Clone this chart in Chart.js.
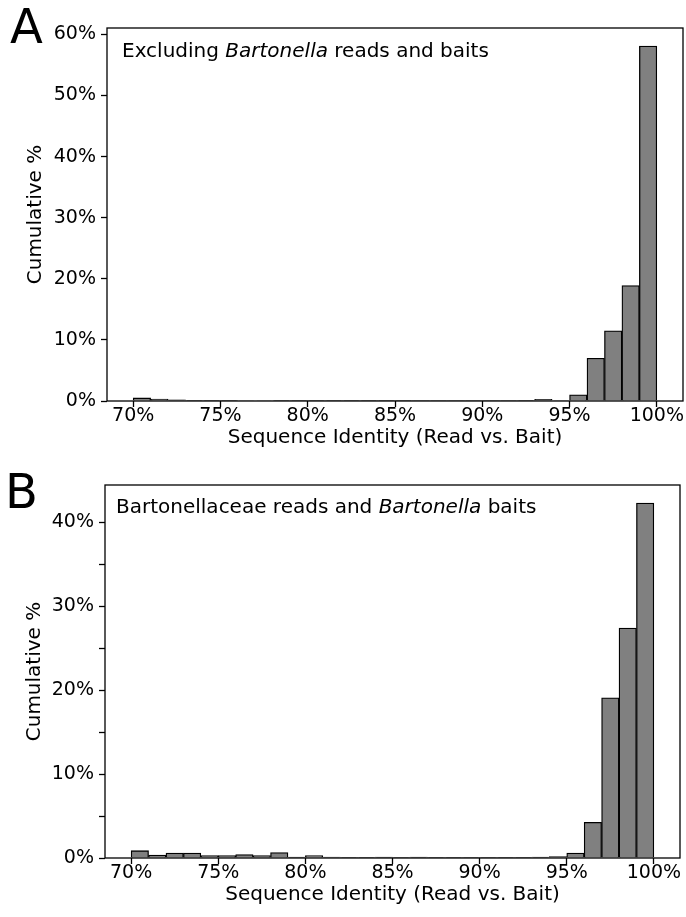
<!DOCTYPE html>
<html>
<head>
<meta charset="utf-8">
<script src="https://cdn.jsdelivr.net/npm/chart.js@4.4.1/dist/chart.umd.min.js"></script>
<style>
  html, body { margin: 0; padding: 0; background: #fff; }
  #wrap { position: relative; width: 686px; height: 917px; }
  canvas { position: absolute; left: 0; }
  #chartA { top: 0; }
  #chartB { top: 458px; }
</style>
</head>
<body>
<div id="wrap">
  <canvas id="chartA" width="686" height="458"></canvas>
  <canvas id="chartB" width="686" height="459"></canvas>
</div>
<script>
// left edges of the 1% bins, 70% .. 99%
const binStarts = [70, 71, 72, 73, 74, 75, 76, 77, 78, 79, 80, 81, 82, 83, 84,
  85, 86, 87, 88, 89, 90, 91, 92, 93, 94, 95, 96, 97, 98, 99];

// panel A: excluding Bartonella reads and baits (% of reads)
const valuesA = [0.5, 0.33, 0.2, 0.12, 0.1, 0.1, 0.08, 0.08, 0.06, 0.04, 0.05, 0.03, 0.02, 0.02, 0.02,
  0.02, 0.01, 0.01, 0.01, 0.01, 0.01, 0.01, 0.02, 0.28, 0.08, 1.0, 7.0, 11.5, 18.9, 58.1];

// panel B: Bartonellaceae reads and Bartonella baits (% of reads)
const valuesB = [0.87, 0.36, 0.6, 0.6, 0.28, 0.28, 0.4, 0.28, 0.64, 0.1, 0.3, 0.12, 0.04, 0.03, 0.1,
  0.05, 0.1, 0.03, 0.02, 0.05, 0.05, 0.08, 0.03, 0.1, 0.18, 0.58, 4.25, 19.1, 27.4, 42.3];

const xTicks = [70, 75, 80, 85, 90, 95, 100];
const yTicksA = [0, 10, 20, 30, 40, 50, 60];
const yTicksB = [0, 5, 10, 15, 20, 25, 30, 35, 40];

const FONT = 'DejaVu Sans';

// frame + panel letter + annotation with italic genus name
const panelDecor = {
  id: 'panelDecor',
  afterDraw(chart, args, opts) {
    const { ctx, chartArea: a } = chart;
    ctx.save();
    ctx.strokeStyle = '#000';
    ctx.lineWidth = 1.3;
    ctx.strokeRect(a.left, a.top, a.right - a.left, a.bottom - a.top);

    ctx.fillStyle = '#000';
    ctx.textBaseline = 'alphabetic';
    ctx.font = `48px "${FONT}"`;
    ctx.fillText(opts.letter, opts.letterX, opts.letterY);

    let x = a.left + opts.textDx;
    const y = a.top + opts.textDy;
    for (const [txt, italic] of opts.parts) {
      ctx.font = `${italic ? 'italic ' : ''}20px "${FONT}"`;
      ctx.fillText(txt, x, y);
      x += ctx.measureText(txt).width;
    }
    ctx.restore();
  }
};

function makeChart(canvasId, values, yMax, yTicks, geom, decor) {
  const ctx = document.getElementById(canvasId).getContext('2d');
  return new Chart(ctx, {
    type: 'bar',
    data: {
      datasets: [{
        data: binStarts.map((b, i) => ({ x: b + 0.5, y: values[i] })),
        backgroundColor: '#808080',
        borderColor: '#000',
        borderWidth: 1.3,
        borderSkipped: 'start',
        barPercentage: 1,
        categoryPercentage: 1
      }]
    },
    options: {
      responsive: false,
      animation: false,
      layout: { padding: { top: geom.top, right: geom.right, left: 0, bottom: 0 } },
      plugins: {
        legend: { display: false },
        tooltip: { enabled: false },
        panelDecor: decor
      },
      scales: {
        x: {
          type: 'linear',
          offset: false,
          min: 68.5,
          max: 101.5,
          afterBuildTicks: s => { s.ticks = xTicks.map(v => ({ value: v })); },
          afterFit: s => { s.height = geom.xHeight; },
          ticks: {
            callback: v => v + '%',
            color: '#000',
            font: { family: FONT, size: 19, lineHeight: 1 },
            padding: 0,
            maxRotation: 0
          },
          grid: { offset: false, drawOnChartArea: false, drawTicks: true, tickLength: 6, tickColor: '#000', tickWidth: 1.3 },
          border: { display: false },
          title: {
            display: true,
            text: 'Sequence Identity (Read vs. Bait)',
            color: '#000',
            font: { family: FONT, size: 20 },
            padding: { top: 0, bottom: geom.xTitlePad }
          }
        },
        y: {
          min: 0,
          max: yMax,
          afterBuildTicks: s => { s.ticks = yTicks.map(v => ({ value: v })); },
          afterFit: s => { s.width = geom.left; },
          ticks: {
            callback: v => (v % 10 === 0 ? v + '%' : ''),
            color: '#000',
            font: { family: FONT, size: 19 },
            padding: 5
          },
          grid: { drawOnChartArea: false, drawTicks: true, tickLength: 6, tickColor: '#000', tickWidth: 1.3 },
          border: { display: false },
          title: {
            display: true,
            text: 'Cumulative %',
            color: '#000',
            font: { family: FONT, size: 20 },
            padding: { top: geom.yTitlePad, bottom: 0 }
          }
        }
      }
    },
    plugins: [panelDecor]
  });
}

makeChart('chartA', valuesA, 61.05, yTicksA,
  { top: 28, right: 3, left: 107, xHeight: 57, xTitlePad: 8, yTitlePad: 24 },
  { letter: 'A', letterX: 10, letterY: 43, textDx: 15, textDy: 29,
    parts: [['Excluding ', false], ['Bartonella', true], [' reads and baits', false]] });

makeChart('chartB', valuesB, 44.45, yTicksB,
  { top: 27, right: 6, left: 105, xHeight: 59, xTitlePad: 10, yTitlePad: 23 },
  { letter: 'B', letterX: 5, letterY: 50, textDx: 11, textDy: 28,
    parts: [['Bartonellaceae reads and ', false], ['Bartonella', true], [' baits', false]] });
</script>
</body>
</html>
